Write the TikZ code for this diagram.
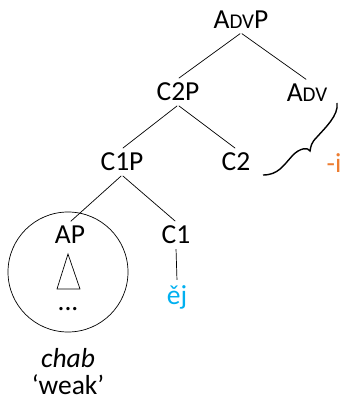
\documentclass[tikz,border=0pt]{standalone}
\usepackage{fontspec}
\setmainfont{Carlito}
\definecolor{morphblue}{RGB}{0,176,240}
\definecolor{morphorange}{RGB}{237,125,49}
\newcommand{\smc}[1]{{\fontsize{21}{24}\selectfont #1}}
\tikzset{
  lbl/.style={font=\fontsize{27.5}{32}\selectfont, inner sep=4pt},
  branch/.style={line width=0.7pt, shorten <=1pt, shorten >=1pt},
}

\begin{document}
\begin{tikzpicture}[x=1pt,y=-1pt]
        \useasboundingbox (0,0) rectangle (342,406);

        % 节点
        \node[lbl] (advp) at (241,20) {A\smc{DV}P};
        \node[lbl] (c2p) at (178,92) {C2P};
        \node[lbl] (adv) at (307,93) {A\smc{DV}};
        \node[lbl] (c1p) at (122,162) {C1P};
        \node[lbl] (c2) at (236,162) {C2};
        \node[lbl] (ap) at (70,235) {AP};
        \node[lbl] (c1) at (176,235) {C1};
        \node[lbl, text=morphblue] (ej) at (177,297) {ěj};
        \node[lbl] (dots) at (68,309) {...};
        \node[lbl] (chab) at (68,358) {\itshape chab};
        \node[lbl] (weak) at (68,385) {‘weak’};

        % 树枝
        \draw[branch] (advp.south) -- (c2p.north);
        \draw[branch] (advp.south) -- (adv.north);
        \draw[branch] (c2p.south) -- (c1p.north);
        \draw[branch] (c2p.south) -- (c2.north);
        \draw[branch] (c1p.south) -- (ap.north);
        \draw[branch] (c1p.south) -- (c1.north);
        \draw[branch] (c1.south) -- (ej.north);

        % 圆圈及三角形
        \draw[line width=0.7pt] (68,272) circle (60);
        \draw[line width=0.7pt] (68,254) -- (57,289) -- (80,289) -- cycle;

        % 括号及 -i
        \coordinate (bracetop) at (337,103);
        \coordinate (bracetip) at (310,151);
        \coordinate (bracebot) at (263,175);
        \draw[line width=1.4pt] (bracetop) .. controls (339,115) and (325,128) .. (317,137)
          .. controls (311,143) and (311,146) .. (bracetip)
          .. controls (308,147) and (300,148) .. (293,155)
          .. controls (283,166) and (278,175) .. (bracebot);
        \node[lbl, text=morphorange] (suffix) at (334,163) {-i};
    \end{tikzpicture}
\end{document}
